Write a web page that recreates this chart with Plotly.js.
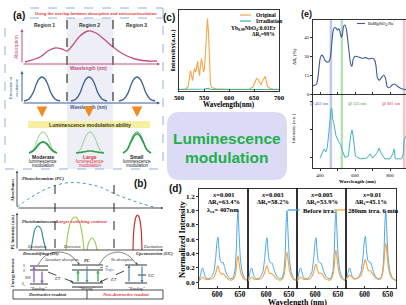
<!DOCTYPE html>
<html><head><meta charset="utf-8">
<script src="https://cdn.plot.ly/plotly-3.0.1.min.js"></script>
<style>html,body{margin:0;padding:0;background:#fff}#chart{width:406px;height:305px}</style>
</head><body><div id="chart"></div>
<script>
// ===== panel (a) schematic curves (canvas units) =====
const absX = [25,40,48,55,62,67,72,80,88,96,105,113,123,135,148,157];
const absY = [62,57,51,48,49,51,46,36,31,33,40,47,54,59,61,61];
const emCenters = [42,89,137];
const emDx = [-18,-13,-9,-6,-3,0,3,6,9,13,18];
const emY  = [101,99,93,85,79,77,79,85,93,99,101];
const grCenters = [43,90,137];
const grDx = [-14,-10,-7,-4,-2,0,2,4,7,10,14];
const grOuterY = [153,150,143,136,133,132,133,136,143,150,153];
const grInner1Y = [153,151,148,144,142.5,142,142.5,144,148,151,153];
const grInner2Y = [153,152.5,152,151.5,151,151,151,151.5,152,152.5,153];
const grInner3Y = [153,150,144,138,135,134,135,138,144,150,153];
// ===== panel (b) schematic curves =====
const pcX = [17,30,42,55,70,85,100,113,128,143,157];
const pcY = [207,198,191,185.5,182.5,183.5,187,193,199,204,208];
const plExX = [31,33,35,38,41,43,46];
const plExY = [250,238,229,226,229,238,250];
const plEmX = [66,68,71,75,79,82,84];
const plEmY = [250,233,221,217,221,233,250];
const plEm2X = [87,89,92,95,97];
const plEm2Y = [250,242,238,242,250];
const plUcX = [133,134,136,137.5,139,141,142];
const plUcY = [250,228,217,215,217,228,250];
const lvlX = [30,48,null,30,48,null,30,48,null,72,103,null,72,103,null,72,103,null,72,103,null,125,147,null,125,147,null,138,146];
const lvlY = [266,266,null,270,270,null,284,284,null,265,265,null,270,270,null,283,283,null,287,287,null,265,265,null,283,283,null,275,275];
const arc1X = [38,45,58,70,79], arc1Y = [265,256,252,255,264];
const arc2X = [99,106,118,129,137], arc2Y = [265,256,252,256,265];
// ===== panel (c) =====
const cWave = [500,512,518,521,523,525,527,529,531,533,535,537,539,541,543,545,547,549,551,553,555,557,559,561,563,566,575,600,640,648,652,655,658,661,664,667,670,672,674,677,682,690,700];
const cOrig = [0.01,0.01,0.04,0.18,0.27,0.2,0.13,0.22,0.3,0.25,0.3,0.4,0.3,0.2,0.35,0.44,0.36,0.25,0.3,0.55,0.85,1.0,0.8,0.3,0.08,0.03,0.015,0.01,0.01,0.04,0.12,0.16,0.15,0.1,0.07,0.12,0.18,0.19,0.14,0.05,0.02,0.01,0.01];
const cIrr = [0.006,0.006,0.007,0.009,0.01,0.009,0.008,0.009,0.01,0.01,0.011,0.013,0.011,0.01,0.013,0.015,0.013,0.011,0.012,0.017,0.022,0.026,0.021,0.012,0.008,0.007,0.006,0.006,0.006,0.007,0.009,0.01,0.01,0.009,0.008,0.009,0.011,0.012,0.01,0.008,0.007,0.006,0.006];
const cTicks = [500,550,600,650,700];
// ===== panel (e) =====
const eWave = [360,370,380,388,395,402,410,418,428,440,452,460,468,476,484,492,500,508,515,522,528,535,542,550,556,565,575,582,590,600,620,640,660,680,700,712,720,728,738,750,765,775,783,790,800,815,828,840,855,870,891];
const eDR = [6.5,7,8,13,22,29,31,30,27,25.5,26,30,42,51,53,52.5,51,52,49,45,48,54,55,52,46,35,24,22,28,30,29.5,28.5,29,28,28.5,27,22,13,11,13,15,12,6,5,5.5,7.5,8,6.5,5,4,3.5];
const eIntWave = [400,412,423,434,442,448,455,462,467,472,480,491,505,518,530,543,562,570,575,583,590,602,629,667,686,701,727,737,752,771,800,815,823,830,867,875,880,891];
const eInt = [0.14,0.2,0.27,0.23,0.3,0.44,0.65,0.82,0.85,0.7,0.62,0.46,0.38,0.33,0.23,0.15,0.17,0.35,0.46,0.54,0.44,0.17,0.13,0.14,0.2,0.14,0.22,0.28,0.2,0.13,0.13,0.2,0.27,0.13,0.13,0.2,0.4,0.45];
const eBands = [462,525,881];
const eDRTicks = [0,15,30,45];
// ===== panel (d) =====
const dWave = [560,563,566,568,570,573,577,582,588,593,597,600,602,604,607,610,613,616,620,625,630,635,639,642,644,646,648,651,655,660,668];
const dBefore = [
 [0.03,0.09,0.18,0.2,0.16,0.09,0.05,0.05,0.08,0.15,0.36,0.58,0.63,0.46,0.3,0.27,0.28,0.22,0.13,0.07,0.05,0.06,0.15,0.42,0.82,1.0,0.72,0.34,0.15,0.06,0.02],
 [0.03,0.09,0.18,0.2,0.16,0.09,0.05,0.05,0.08,0.15,0.35,0.57,0.62,0.45,0.3,0.27,0.27,0.21,0.13,0.07,0.05,0.06,0.15,0.41,0.81,1.0,0.72,0.34,0.15,0.06,0.02],
 [0.03,0.09,0.18,0.2,0.16,0.09,0.05,0.05,0.08,0.15,0.35,0.57,0.62,0.45,0.3,0.27,0.27,0.21,0.13,0.07,0.05,0.06,0.15,0.41,0.81,1.0,0.72,0.34,0.15,0.06,0.02],
 [0.03,0.09,0.18,0.2,0.16,0.09,0.05,0.05,0.08,0.16,0.37,0.6,0.64,0.47,0.31,0.28,0.28,0.22,0.13,0.07,0.05,0.06,0.15,0.42,0.82,1.0,0.73,0.35,0.15,0.06,0.02]];
const dAfter = [
 [0.02,0.04,0.065,0.07,0.065,0.05,0.04,0.04,0.05,0.07,0.13,0.21,0.23,0.18,0.13,0.11,0.12,0.1,0.07,0.04,0.03,0.04,0.08,0.18,0.31,0.37,0.29,0.16,0.08,0.04,0.02],
 [0.02,0.04,0.065,0.07,0.065,0.05,0.04,0.04,0.05,0.08,0.14,0.21,0.23,0.18,0.13,0.12,0.12,0.1,0.07,0.04,0.03,0.04,0.09,0.2,0.35,0.42,0.33,0.18,0.09,0.04,0.02],
 [0.02,0.04,0.065,0.07,0.065,0.05,0.04,0.04,0.05,0.08,0.15,0.23,0.25,0.2,0.14,0.12,0.13,0.11,0.07,0.04,0.03,0.04,0.1,0.22,0.38,0.45,0.35,0.19,0.09,0.04,0.02],
 [0.03,0.06,0.09,0.1,0.09,0.07,0.05,0.05,0.07,0.1,0.19,0.29,0.32,0.26,0.18,0.16,0.16,0.13,0.09,0.05,0.04,0.05,0.12,0.27,0.46,0.55,0.43,0.23,0.11,0.05,0.03]];
const dX = ['0.001','0.003','0.005','0.01'];
const dDR = ['63.4%','58.2%','53.9%','45.1%'];
const dYTicks = [0,0.2,0.4,0.6,0.8,1.0,1.2];
const dYText = ['0.0','0.2','0.4','0.6','0.8','1.0','1.2'];
const dXTicks = [600,650];

// ===== build =====
const W=406,H=305;
const dxp=(a,b)=>[a/W,b/W];
const dyp=(t,b)=>[1-b/H,1-t/H];
const SERIF='Liberation Serif, Times New Roman, serif';
const SANS='Liberation Sans, Arial, sans-serif';
const traces=[], ann=[], shp=[];
function cl(x,y,color,width,extra){traces.push(Object.assign({type:'scatter',mode:'lines',x:x,y:y,xaxis:'x',yaxis:'y',line:{color:color,width:width,shape:'spline'},hoverinfo:'skip'},extra||{}));}
function T(x,y,text,o){o=o||{};ann.push({xref:'x',yref:'y',x:x,y:y,text:text,showarrow:false,xanchor:o.xa||'center',yanchor:'middle',textangle:o.ang||0,
  font:{family:o.fam||SANS,size:o.size||5,color:o.color||'#222',weight:o.w||'normal',style:o.st||'normal'}});}
function A(x0,y0,x1,y1,color,width,head,size){ann.push({xref:'x',yref:'y',axref:'x',ayref:'y',x:x1,y:y1,ax:x0,ay:y0,text:'',showarrow:true,arrowhead:head,arrowsize:size,arrowwidth:width,arrowcolor:color,standoff:0,startstandoff:0});}
function L(x0,y0,x1,y1,color,width,dash,layer){shp.push({type:'line',xref:'x',yref:'y',x0:x0,y0:y0,x1:x1,y1:y1,line:{color:color,width:width,dash:dash||'solid'},layer:layer||'above'});}
function R(x0,y0,x1,y1,fill,lc,lw,layer){shp.push({type:'rect',xref:'x',yref:'y',x0:x0,y0:y0,x1:x1,y1:y1,fillcolor:fill,line:{color:lc||'rgba(0,0,0,0)',width:lw||0},layer:layer||'below'});}

// ---- (a) frame ----
const BLU='#8fb0e2';
R(67,18,113,169,'#eeeef7',null,0,'below');
L(30,8,163,8,BLU,1,'dash');L(30,18,163,18,BLU,1,'dash');
L(5,28,5,169,BLU,1,'dash');L(5,169,163,169,BLU,1,'dash');L(163,8,163,169,BLU,1,'dash');
T(19,15,'(a)',{size:10,w:'bold',color:'#111'});
T(33,13,'Using the overlap between absorption and emission/excitation',{size:4.1,w:'bold',color:'#e0353d',xa:'left'});
T(44,25,'Region 1',{size:5,w:'bold',color:'#333'});
T(89,25,'Region 2',{size:5,w:'bold',color:'#333'});
T(136,25,'Region 3',{size:5,w:'bold',color:'#333'});
L(67,20,67,101,'#222',1.1,'dash');L(113,20,113,101,'#222',1.1,'dash');
const PINK='#c4507e', EBL='#3d5f95';
A(22,64,22,29,PINK,1,2,0.6);A(22,64,160,64,PINK,1,2,0.6);
cl(absX,absY,PINK,1.3);
T(16,47,'Absorption',{size:5,color:PINK,ang:-90});
T(88,68.5,'Wavelength (nm)',{size:4.6,w:'bold',color:PINK});
A(22,103,22,71,EBL,1,2,0.6);A(22,103,160,103,EBL,1,2,0.6);
emCenters.forEach(c=>cl(emDx.map(d=>c+d),emY,EBL,1.3));
T(13,88,'Emission or<br>excitation',{size:4.3,color:EBL,ang:-90});
T(88,107.5,'Wavelength (nm)',{size:4.6,w:'bold',color:EBL});
emCenters.forEach(c=>A(c,108,c,117,'#f28a22',3,2,0.7));
R(28,121,150,128,'#f7f0a2',null,0,'below');
T(90,124.5,'Luminescence modulation ability',{size:5.2,w:'bold',color:'#333'});
const GL='#8dce8d', GD='#2f9e48';
cl(grDx.map(d=>grCenters[0]+d),grOuterY,GL,1);
cl(grDx.map(d=>grCenters[0]+d),grInner1Y,GD,1.8);
cl(grDx.map(d=>grCenters[1]+d),grOuterY,GL,1);
cl(grDx.map(d=>grCenters[1]+d),grInner2Y,GD,1.6);
cl(grDx.map(d=>grCenters[2]+d),grOuterY,GD,1);
cl(grDx.map(d=>grCenters[2]+d),grInner3Y,GD,1.6);
[['Moderate','#222',43],['Large','#e0353d',90],['Small','#222',137]].forEach(([t,c,x])=>{
  T(x,156.5,t,{size:5,w:'bold',color:c});T(x,161,'luminescence',{size:4.5,color:c});T(x,165.5,'modulation',{size:4.5,color:c});});

// ---- (b) ----
T(140,183,'(b)',{size:10,w:'bold',color:'#111'});
A(17,208,17,171,'#222',0.8,2,0.5);A(17,208,163,208,'#222',0.8,2,0.5);
A(17,250,17,213,'#222',0.8,2,0.5);A(17,250,163,250,'#222',0.8,2,0.5);
cl(pcX,pcY,'#3aa3aa',1,{line:{color:'#3aa3aa',width:1,dash:'dot',shape:'spline'}});
L(55,185,55,250,'#222',1,'dash');L(114,185,114,250,'#222',1,'dash');
T(20,178,'Photochromism (PC)',{size:4.8,fam:SERIF,st:'italic',w:'bold',xa:'left'});
T(11.5,190,'Absorbance',{size:4.5,fam:SERIF,ang:-90,w:'bold'});
T(20,221,'Photoluminescence',{size:4.5,fam:SERIF,st:'italic',w:'bold',xa:'left'});
T(81,221,'Larger switching contrast',{size:4.8,fam:SERIF,st:'italic',w:'bold',color:'#e0353d'});
T(11.5,232,'PL Intensity (a.u.)',{size:4.5,fam:SERIF,ang:-90,w:'bold'});
cl(plExX,plExY,'#3a8f94',1.2);
cl(plEmX,plEmY,'#9ccf55',1.2);cl(plEm2X,plEm2Y,'#9ccf55',1.2);
cl(plUcX,plUcY,'#c8302d',1.2);
T(37,246,'Excitation',{size:4.5,fam:SERIF,st:'italic'});
T(72,246,'Emission',{size:4.5,fam:SERIF,st:'italic'});
T(153,246,'Excitation',{size:4.5,fam:SERIF,st:'italic'});
T(20,253,'Downshifting (DS)',{size:4.6,fam:SERIF,st:'italic',w:'bold',xa:'left'});
T(134,253,'Upconversion (UC)',{size:4.6,fam:SERIF,st:'italic',w:'bold',xa:'left'});
T(12,273,'Energy increase',{size:4.2,fam:SERIF,ang:-90,w:'bold'});
cl(lvlX,lvlY,'#333',1,{line:{color:'#333',width:1,shape:'linear'}});
cl(arc1X,arc1Y,'#666',0.8);cl(arc2X,arc2Y,'#666',0.8);
A(78,261,79,265,'#444',0.8,2,0.5);A(136,261,137,265,'#444',0.8,2,0.5);
A(34,284,34,266,'#9a63c8',1.4,2,0.5);A(42,270,42,284,'#9a63c8',1.4,2,0.5);
A(78,283,78,270,'#3fb35e',1.4,2,0.5);A(87,265,87,283,'#4a90c8',1.2,2,0.5);A(98,283,98,270,'#3fb35e',1.4,2,0.5);
A(129,283,129,265,'#4a80c0',1.2,2,0.5);A(142,265,142,283,'#4a80c0',1.2,2,0.5);
L(48,272,73,282,'#333',0.9,'dash');A(70,281,73,282.2,'#333',0.9,2,0.5);
L(124,271,100,282,'#333',0.9,'dash');A(103,280.8,100,282,'#333',0.9,2,0.5);
L(100,268,108,266,'#333',0.7,'dot');
T(24,266,'S<sub>1</sub>',{size:3.6,fam:SERIF,st:'italic'});
T(24,270.5,"S'",{size:3.6,fam:SERIF,st:'italic'});
T(24,284,'S<sub>0</sub>',{size:3.6,fam:SERIF,st:'italic'});
T(27,277,'DS',{size:4.5,fam:SERIF,st:'italic'});
T(57,278,'ET',{size:4.5,fam:SERIF,st:'italic'});
T(113,279,'ET',{size:4.5,fam:SERIF,st:'italic'});
T(151,275,'UC',{size:4.5,fam:SERIF,st:'italic'});
T(87,260,'PC',{size:4.5,fam:SERIF,st:'italic',w:'bold'});
T(109,270,'Traps',{size:3.8,fam:SERIF,st:'italic',color:'#3a5ad0'});
T(62,259.5,'Secondary absorption',{size:3.8,fam:SERIF,st:'italic'});
T(121,260,'No absorption',{size:3.8,fam:SERIF,st:'italic'});
T(38,288.3,'“Reading”',{size:3.8,fam:SERIF,st:'italic'});
T(87,288.3,'“Writing”',{size:3.8,fam:SERIF,st:'italic'});
T(136,288.3,'“Reading”',{size:3.8,fam:SERIF,st:'italic'});
R(13,290,163,299,'rgba(0,0,0,0)','#222',0.8,'above');L(87,290,87,299,'#222',0.8);
T(47,294.5,'Destructive readout',{size:4.6,fam:SERIF,st:'italic',w:'bold'});
T(126,294.5,'Non-destructive readout',{size:4.6,fam:SERIF,st:'italic',w:'bold',color:'#e0353d'});

// ---- lavender box ----
shp.push({type:'path',xref:'x',yref:'y',layer:'below',fillcolor:'#dbdbf5',line:{width:0,color:'rgba(0,0,0,0)'},
  path:'M 180 112 L 274 112 Q 287 112 287 125 L 287 167 Q 287 180 274 180 L 180 180 Q 167 180 167 167 L 167 125 Q 167 112 180 112 Z'});
T(227,138,'Luminescence',{size:15.5,w:'bold',color:'#1fae4b'});
T(227,157,'modulation',{size:15.5,w:'bold',color:'#1fae4b'});

// ---- axes helper ----
function ax(domain,range,extra){return Object.assign({domain:domain,range:range,autorange:false,fixedrange:true,showgrid:false,zeroline:false,showline:true,linecolor:'#000',linewidth:0.8,ticks:'outside',ticklen:2,tickwidth:0.8,tickcolor:'#000',tickfont:{family:SERIF,size:6,color:'#000',weight:'bold'}},extra||{});}
const layout={width:W,height:H,margin:{l:0,r:0,t:0,b:0},paper_bgcolor:'#fff',plot_bgcolor:'rgba(0,0,0,0)',showlegend:false,hovermode:false,
  xaxis:{domain:[0,1],range:[0,W],visible:false,fixedrange:true},
  yaxis:{domain:[0,1],range:[H,0],visible:false,fixedrange:true}};

// ---- (c) ----
layout.xaxis2=ax(dxp(179,279),[500,700],{anchor:'y2',tickvals:cTicks,mirror:true,ticks:'inside',tickfont:{family:SERIF,size:6.8,color:'#000',weight:'bold'}});
layout.yaxis2=ax(dyp(10,91),[-0.015,1.12],{anchor:'x2',showticklabels:false,ticks:'',mirror:true});
traces.push({type:'scatter',mode:'lines',x:cWave,y:cOrig,xaxis:'x2',yaxis:'y2',line:{color:'#f6a548',width:1.1},hoverinfo:'skip'});
traces.push({type:'scatter',mode:'lines',x:cWave,y:cIrr,xaxis:'x2',yaxis:'y2',line:{color:'#3fb3a6',width:1.1},hoverinfo:'skip'});
T(169,17,'(c)',{size:10,w:'bold',color:'#111'});
T(172.5,50,'Intensity(a.u.)',{size:7,fam:SERIF,w:'bold',ang:-90,color:'#000'});
T(229,105,'Wavelength(nm)',{size:7.2,fam:SERIF,w:'bold',color:'#000'});
L(240,15,251,15,'#f6a548',1.2);L(240,21,251,21,'#3fb3a6',1.2);
T(254,15,'Original',{size:5.5,fam:SERIF,w:'bold',xa:'left',color:'#000'});
T(254,21,'Irradiation',{size:5.5,fam:SERIF,w:'bold',xa:'left',color:'#000'});
T(278,28,'Yb<sub>0.99</sub>NbO<sub>4</sub>:0.01Er',{size:5.5,fam:SERIF,w:'bold',xa:'right',color:'#000'});
T(277,34.5,'ΔR<sub>t</sub>=99%',{size:5.5,fam:SERIF,w:'bold',xa:'right',color:'#000'});

// ---- (e) ----
eBands.forEach((b,i)=>{const col=['rgba(140,155,225,0.55)','rgba(120,200,120,0.55)','rgba(240,140,155,0.55)'][i];
  shp.push({type:'rect',xref:'x3',yref:'y',x0:b-7,x1:b+7,y0:20,y1:168,fillcolor:col,line:{width:0},layer:'below'});});
layout.xaxis3=ax(dxp(313,406),[360,891],{anchor:'y3',showticklabels:false,tickvals:[400,500,600,700,800],ticks:'inside',mirror:true});
layout.yaxis3=ax(dyp(20,94),[0,59],{anchor:'x3',tickvals:eDRTicks,mirror:true,tickfont:{family:SERIF,size:5,color:'#000'}});
layout.xaxis4=ax(dxp(313,406),[360,891],{anchor:'y4',tickvals:[400,500,600,700,800],ticktext:['400',' ','600',' ','800'],tickfont:{family:SERIF,size:5,color:'#000'}});
layout.yaxis4=ax(dyp(94,168),[0,1.05],{anchor:'x4',showticklabels:false,tickvals:[0.15,0.55,0.95]});
traces.push({type:'scatter',mode:'lines',x:eWave,y:eDR,xaxis:'x3',yaxis:'y3',line:{color:'#3b5b9c',width:1.1,shape:'spline'},hoverinfo:'skip'});
traces.push({type:'scatter',mode:'lines',x:eIntWave,y:eInt,xaxis:'x4',yaxis:'y4',line:{color:'#3fb2c8',width:1},hoverinfo:'skip'});
T(306,13.5,'(e)',{size:9,w:'bold',color:'#111'});
T(295,57,'ΔR<sub>t</sub> (%)',{size:5,fam:SERIF,ang:-90,color:'#000'});
T(293,128,'Intensity (a.u.)',{size:5,fam:SERIF,ang:-90,color:'#000'});
T(357,181.5,'Wavelength (nm)',{size:5,fam:SERIF,w:'bold',color:'#000'});
L(357,23.5,365,23.5,'#3b5b9c',1.1);
T(366,23.5,'BaMgSiO<sub>4</sub>:Na<sup>+</sup>',{size:4.3,fam:SERIF,xa:'left',color:'#000'});
T(319,103,'@ 462 nm',{size:4.3,fam:SERIF,color:'#5060c0'});
T(357,103,'@ 525 nm',{size:4.3,fam:SERIF,color:'#3a9a3a'});
T(391,103,'@ 881 nm',{size:4.3,fam:SERIF,color:'#d04050'});

// ---- (d) ----
const dDom=[[199,248],[248,297],[297,346],[346,396]];
dDom.forEach((d,i)=>{const n=5+i;
  layout['xaxis'+n]=ax(dxp(d[0],d[1]),[560,668],{anchor:'y'+n,tickvals:dXTicks,mirror:true,ticks:'inside',tickfont:{family:SERIF,size:7.2,color:'#000',weight:'bold'}});
  layout['yaxis'+n]=ax(dyp(189,288),[-0.08,1.3],{anchor:'x'+n,tickvals:dYTicks,ticktext:dYText,showticklabels:i===0,ticks:i===0?'outside':'',mirror:true,tickfont:{family:SERIF,size:7,color:'#000',weight:'bold'}});
  traces.push({type:'scatter',mode:'lines',x:dWave,y:dBefore[i],xaxis:'x'+n,yaxis:'y'+n,line:{color:'#4aa6e8',width:1,shape:'spline',smoothing:0.5},hoverinfo:'skip'});
  traces.push({type:'scatter',mode:'lines',x:dWave,y:dAfter[i],xaxis:'x'+n,yaxis:'y'+n,line:{color:'#f4a342',width:1.1,shape:'spline',smoothing:0.5},hoverinfo:'skip'});
  const cx=(d[0]+d[1])/2;
  T(cx,194,'<i>x</i>='+dX[i],{size:6.5,fam:SERIF,w:'bold',color:'#000'});
  T(cx,202,'ΔR<sub>t</sub>='+dDR[i],{size:6.5,fam:SERIF,w:'bold',color:'#000'});
});
T(223,210,'λ<sub>ex</sub>= 407nm',{size:6.5,fam:SERIF,w:'bold',color:'#000'});
L(288,210,300,210,'#4aa6e8',1.3);L(334,210,345,210,'#f4a342',1.3);
T(301,210,'Before irra.',{size:6.5,fam:SERIF,w:'bold',xa:'left',color:'#000'});
T(345.5,210,'280nm irra. 6 min',{size:6.5,fam:SERIF,w:'bold',xa:'left',color:'#000'});
T(175,188,'(d)',{size:10,w:'bold',color:'#111'});
T(182,240,'Normalized Intensity',{size:8.5,fam:SERIF,w:'bold',ang:-90,color:'#000'});
T(297,302.5,'Wavelength (nm)',{size:8,fam:SERIF,w:'bold',color:'#000'});

layout.annotations=ann;layout.shapes=shp;
Plotly.newPlot('chart',traces,layout,{staticPlot:true,displayModeBar:false});
</script></body></html>
